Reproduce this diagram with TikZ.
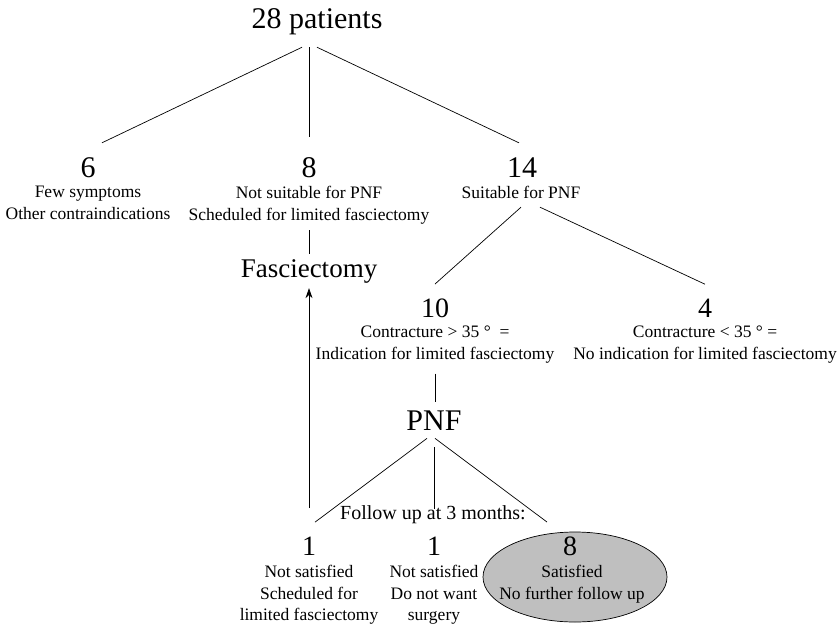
\documentclass[tikz,border=0pt]{standalone}
\usepackage{fontspec}
\setmainfont{Liberation Serif}
\usetikzlibrary{shapes.geometric, arrows.meta}

\begin{document}
\begin{tikzpicture}[x=1pt, y=-1pt, line width=0.7pt, >={Stealth[length=10pt,width=7pt]},
    big/.style={font=\fontsize{30}{36}\selectfont, anchor=base, inner xsep=0pt, inner ysep=14pt},
    num/.style={font=\fontsize{28}{34}\selectfont, anchor=base, inner xsep=0pt, inner ysep=14pt},
    lbl/.style={font=\fontsize{17.5}{21.5}\selectfont, align=center, anchor=north, inner sep=0pt}]
                \useasboundingbox (0,0) rectangle (840,627);

                % first level
                \node[big, inner ysep=12.5pt] (top) at (317,28) {28 patients};
                \node[big] (n6) at (88,177) {6};
                \node[big] (n8) at (309,177) {8};
                \node[big] (n14) at (522,177) {14};
                \node[lbl] (t6) at (88,186) {Few symptoms\\Other contraindications};
                \node[lbl] (t8) at (309,186) {Not suitable for PNF\\Scheduled for limited fasciectomy};
                \node[lbl] (t14) at (521,186) {Suitable for PNF};

                \draw ([xshift=-15pt]top.south) -- ([xshift=14pt]n6.north);
                \draw[shorten >=6pt] ([xshift=-8pt]top.south) -- (n8.north);
                \draw (top.south) -- ([xshift=-3pt]n14.north);

                \node[font=\fontsize{27}{32}\selectfont, anchor=base, inner xsep=0pt, inner ysep=5pt] (fas) at (309,277) {Fasciectomy};
                \draw[shorten <=6pt] (t8.south) -- (fas.north);

                % suitable for PNF
                \node[num] (n10) at (435,317) {10};
                \node[num] (n4) at (705,317) {4};
                \node[lbl] (t10) at (435,326) {Contracture > 35 ° \ =\\Indication for limited fasciectomy};
                \node[lbl] (t4) at (705,326) {Contracture < 35 ° =\\No indication for limited fasciectomy};
                \draw ([yshift=-8pt]t14.south) -- (n10.north);
                \draw ([xshift=19pt,yshift=-8pt]t14.south) -- (n4.north);

                \node[big, inner ysep=8pt] (pnf) at (434,430) {PNF};
                \draw[shorten <=10pt] (t10.south) -- (t10.south |- pnf.north);

                % follow up
                \node[font=\fontsize{20}{24}\selectfont, anchor=base, inner sep=0pt] (follow) at (433,519) {Follow up at 3 months:};
                \node[draw, fill=black!25, ellipse, minimum width=184pt, minimum height=90pt, inner sep=0pt] (sat) at (575,577) {};
                \node[num] (n1a) at (309,555) {1};
                \node[num] (n1b) at (434,555) {1};
                \node[num] (n8b) at (570,555) {8};
                \node[lbl] (t1a) at (309,565) {Not satisfied\\Scheduled for\\limited fasciectomy};
                \node[lbl] (t1b) at (434,565) {Not satisfied\\Do not want\\surgery};
                \node[lbl] (t8b) at (572,565) {Satisfied\\No further follow up};

                \draw ([xshift=-7pt]pnf.south) -- ([xshift=6pt]n1a.north);
                \draw[shorten <=9pt, shorten >=13pt] (pnf.south) -- (n1b.north);
                \draw ([xshift=1pt]pnf.south) -- ([xshift=-23pt]n8b.north);

                \draw[->, shorten <=14pt] (n1a.north) -- (fas.south);
            \end{tikzpicture}
\end{document}
